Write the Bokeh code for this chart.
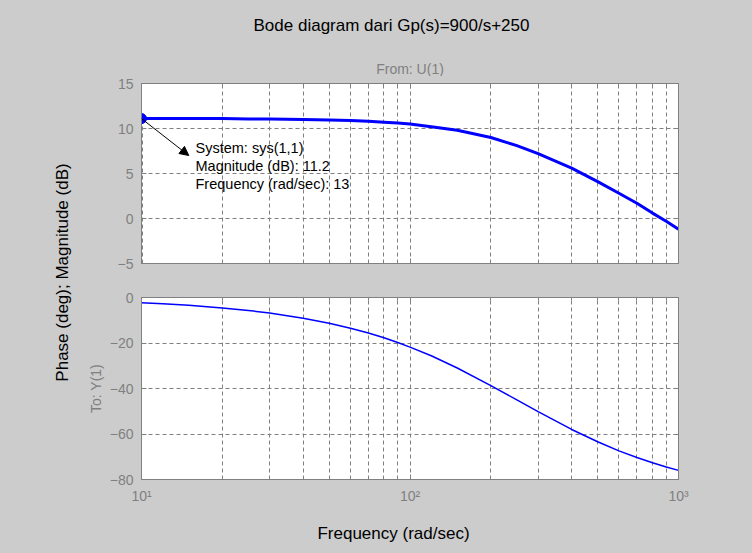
import math
from bokeh.plotting import figure
from bokeh.layouts import row, column
from bokeh.models import (Label, Arrow, NormalHead, FixedTicker, LinearAxis,
                          LogAxis, Range1d)
from bokeh.embed import file_html
from bokeh.resources import INLINE

# ---------------- data ----------------
freq = [10, 12, 15, 20, 25, 30, 40, 50, 60, 70, 80, 90, 100, 120, 150,
        200, 250, 300, 400, 500, 600, 700, 800, 900, 1000]
mag_db = [11.1, 11.1, 11.1, 11.1, 11.05, 11.05, 11.0, 10.95, 10.9, 10.8,
          10.7, 10.6, 10.5, 10.2, 9.8, 9.0, 8.1, 7.2, 5.6, 4.1, 2.8, 1.7,
          0.6, -0.3, -1.2]
phase_deg = [-2.3, -2.7, -3.4, -4.6, -5.7, -6.8, -9.1, -11.3, -13.5, -15.6,
             -17.7, -19.8, -21.8, -25.6, -31.0, -38.7, -45.0, -50.2, -58.0,
             -63.4, -67.4, -70.3, -72.6, -74.5, -76.0]
mag_ticks = [-5, 0, 5, 10, 15]
phase_ticks = [-80, -60, -40, -20, 0]
freq_major = [10, 100, 1000]
freq_minor = [20, 30, 40, 50, 60, 70, 80, 90, 200, 300, 400, 500, 600, 700, 800, 900]
freq_labels = {10: "10¹", 100: "10²", 1000: "10³"}
tip_freq = 10
tip_mag = 11.1
tip_arrow_end = (15, 7.0)
tip_lines = ["System: sys(1,1)", "Magnitude (dB): 11.2", "Frequency (rad/sec): 13"]
title_text = "Bode diagram dari Gp(s)=900/s+250"
from_text = "From: U(1)"
to_text = "To: Y(1)"
xlabel_text = "Frequency (rad/sec)"
ylabel_text = "Phase (deg); Magnitude (dB)"

# ---------------- style ----------------
BG = "#CCCCCC"
GRAY = "#808080"
BLUE = "#0000FF"
FONT = "Liberation Sans"
W, H = 752, 553
LEFT_W = 80
MAIN_W = W - LEFT_W
TITLE_H = 76
XLAB_H = 38
TOP_H = 280 - TITLE_H
BOT_H = (H - XLAB_H) - 280
MID_H = H - TITLE_H - XLAB_H


def style_axis(ax, show_labels=True, minor=False):
    ax.axis_line_color = GRAY
    ax.major_tick_line_color = GRAY
    ax.minor_tick_line_color = GRAY if minor else None
    ax.major_tick_in = 5
    ax.major_tick_out = 0
    ax.minor_tick_in = 3
    ax.minor_tick_out = 0
    ax.major_label_text_color = GRAY
    ax.major_label_text_font = FONT
    if show_labels:
        ax.major_label_text_font_size = "14px"
        ax.major_label_standoff = 8
    else:
        ax.major_label_text_font_size = "1px"
        ax.major_label_text_alpha = 0
        ax.major_label_standoff = 0


def style_fig(p):
    p.background_fill_color = "white"
    p.border_fill_color = BG
    p.outline_line_color = GRAY
    for g in (p.xgrid[0], p.ygrid[0]):
        g.grid_line_color = GRAY
        g.grid_line_dash = "4 3"
        g.grid_line_width = 1
    p.xgrid[0].minor_grid_line_color = GRAY
    p.xgrid[0].minor_grid_line_dash = "4 3"


def make_fig(height, yr, yticks, top, bottom, show_x):
    p = figure(width=MAIN_W, height=height, x_axis_type="log",
               x_range=Range1d(10, 1000), y_range=Range1d(*yr),
               output_backend="svg", toolbar_location=None, title=None,
               min_border_left=61, min_border_right=74,
               min_border_top=top, min_border_bottom=bottom)
    xa = p.xaxis[0]
    ya = p.yaxis[0]
    xa.ticker = FixedTicker(ticks=freq_major, minor_ticks=freq_minor)
    ya.ticker = FixedTicker(ticks=yticks)
    style_axis(xa, show_labels=show_x, minor=True)
    style_axis(ya)
    if show_x:
        xa.major_label_overrides = freq_labels
    else:
        xa.major_label_overrides = {k: "" for k in freq_major}
    ra = LinearAxis(ticker=FixedTicker(ticks=yticks),
                    major_label_overrides={k: "" for k in yticks})
    style_axis(ra, show_labels=False)
    p.add_layout(ra, "right")
    ta = LogAxis(ticker=FixedTicker(ticks=freq_major, minor_ticks=freq_minor),
                 major_label_overrides={k: "" for k in freq_major})
    style_axis(ta, show_labels=False, minor=True)
    p.add_layout(ta, "above")
    style_fig(p)
    return p


def strip(width, height):
    s = figure(width=width, height=height, x_range=Range1d(0, width),
               y_range=Range1d(0, height), output_backend="svg",
               toolbar_location=None, min_border=0, title=None)
    s.axis.visible = False
    s.grid.visible = False
    s.outline_line_color = None
    s.background_fill_color = BG
    s.border_fill_color = BG
    return s


# ---------------- title strip ----------------
title_strip = strip(W, TITLE_H)
title_strip.add_layout(Label(x=391, y=TITLE_H - 25, text=title_text, text_font=FONT,
                             text_font_size="17px", text_color="black",
                             text_baseline="middle", text_align="center"))
title_strip.add_layout(Label(x=409.5, y=TITLE_H - 68, text=from_text, text_font=FONT,
                             text_font_size="14px", text_color=GRAY,
                             text_baseline="middle", text_align="center"))

# ---------------- magnitude ----------------
top = make_fig(TOP_H, (-5, 15), mag_ticks, 83 - TITLE_H, 17, False)
top.line(freq, mag_db, line_color=BLUE, line_width=3)
top.segment(x0=[tip_freq], y0=[-5], x1=[tip_freq], y1=[tip_mag],
            line_color="black", line_width=2, line_dash="4 3")
top.add_layout(Arrow(end=NormalHead(size=9, fill_color="black", line_color="black"),
                     x_start=tip_freq, y_start=tip_mag,
                     x_end=tip_arrow_end[0], y_end=tip_arrow_end[1],
                     line_color="black", line_width=1))
top.scatter([tip_freq], [tip_mag], size=10, fill_color=BLUE, line_color=BLUE)
for i, t in enumerate(tip_lines):
    # screen units are relative to the frame's bottom-left corner
    top.add_layout(Label(x=195 - 141, y=263 - 147 - 18 * i, x_units="screen", y_units="screen",
                         text=t, text_font=FONT, text_font_size="14.5px",
                         text_color="black", text_baseline="middle", text_align="left"))

# ---------------- phase ----------------
bot = make_fig(BOT_H, (-80, 0), phase_ticks, 17, (H - XLAB_H) - 479, True)
bot.line(freq, phase_deg, line_color=BLUE, line_width=1.5)
ya_bot = bot.yaxis[0]
ya_bot.axis_label = to_text
ya_bot.axis_label_text_font = FONT
ya_bot.axis_label_text_font_size = "14px"
ya_bot.axis_label_text_font_style = "normal"
ya_bot.axis_label_text_color = GRAY
ya_bot.axis_label_standoff = 3

# ---------------- left label strip ----------------
left = strip(LEFT_W, MID_H)
left.add_layout(Label(x=62, y=MID_H - (272 - TITLE_H), text=ylabel_text, text_font=FONT,
                      text_font_size="17px", angle=math.pi / 2, text_color="black",
                      text_baseline="middle", text_align="center"))

# ---------------- x label strip ----------------
xlab = strip(W, XLAB_H)
xlab.add_layout(Label(x=393, y=XLAB_H - (533 - (H - XLAB_H)), text=xlabel_text, text_font=FONT,
                      text_font_size="17px", text_color="black",
                      text_baseline="middle", text_align="center"))

layout = column(title_strip,
                row(left, column(top, bot, spacing=0), spacing=0),
                xlab, spacing=0)
layout.styles = {"background-color": BG}

open("out.html", "w").write(file_html(layout, INLINE))
